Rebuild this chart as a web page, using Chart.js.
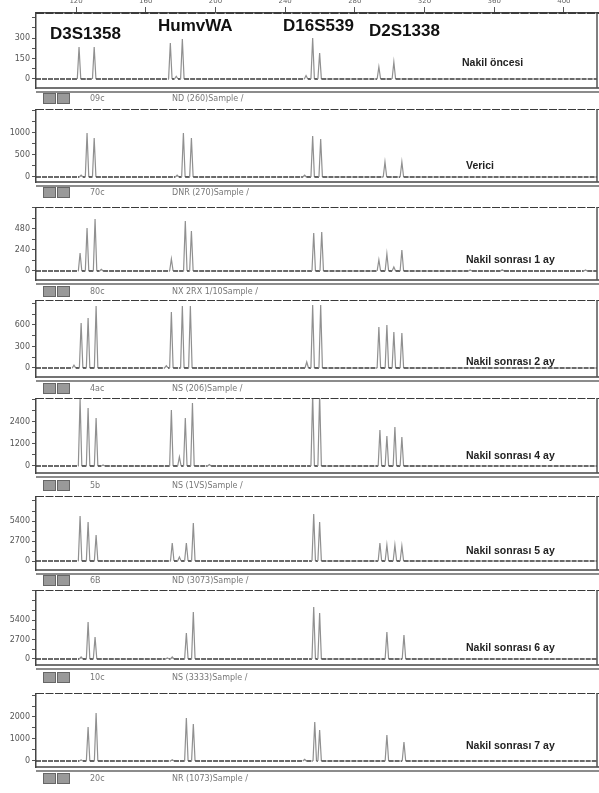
<!DOCTYPE html>
<html>
<head>
<meta charset="utf-8">
<script src="https://cdn.jsdelivr.net/npm/chart.js@4"></script>
<style>
  body { margin: 0; background: #fff; width: 599px; height: 793px; overflow: hidden; position: relative; font-family: "Liberation Sans", Arial, sans-serif; }
  .panel { position: absolute; left: 0; width: 599px; }
  .txt { position: absolute; white-space: nowrap; }
  .marker { font-weight: bold; font-size: 17px; color: #111; }
  .sample { font-weight: bold; font-size: 10.5px; color: #222; }
  .foot { font-family: "DejaVu Sans", sans-serif; font-size: 8px; color: #777; }
  .btn { position: absolute; width: 11px; height: 9px; background: #999; border: 1px solid #666; }
</style>
</head>
<body>
<script>
// base-pair axis (top of the first panel)
const xMin = 97, xMax = 419;
const xTicks = [120, 160, 200, 240, 280, 320, 360, 400];

// locus names over the first trace
const markers = ['D3S1358', 'HumvWA', 'D16S539', 'D2S1338'];

// one label per trace
const sampleNames = ['Nakil öncesi', 'Verici', 'Nakil sonrası 1 ay', 'Nakil sonrası 2 ay',
                     'Nakil sonrası 4 ay', 'Nakil sonrası 5 ay', 'Nakil sonrası 6 ay', 'Nakil sonrası 7 ay'];
const runIds = ['09c', '70c', '80c', '4ac', '5b', '6B', '10c', '20c'];
const sampleTags = ['ND (260)Sample /', 'DNR (270)Sample /', 'NX 2RX 1/10Sample /', 'NS (206)Sample /',
                    'NS (1VS)Sample /', 'ND (3073)Sample /', 'NS (3333)Sample /', 'NR (1073)Sample /'];

// y axis range and label step (RFU)
const yMins  = [-66, -114, -103, -126, -382, -1215, -831, -273];
const yMaxs  = [483, 1545, 731, 949, 3709, 8775, 9554, 3091];
const ySteps = [150, 500, 240, 300, 1200, 2700, 2700, 1000];

// peaks: size (bp) and height (RFU)
const p1Pos = [121.7, 130.4, 174.1, 177.5, 181.0, 252.0, 255.8, 259.8, 293.8, 302.4];
const p1Hgt = [234, 234, 263, 20, 293, 25, 300, 190, 88, 124];
const p2Pos = [122.9, 126.3, 130.4, 178.0, 181.6, 186.2, 251.2, 255.8, 260.4, 297.3, 307.0];
const p2Hgt = [40, 1000, 886, 40, 1000, 886, 40, 930, 864, 340, 340];
const p3Pos = [122.3, 126.3, 130.9, 134.5, 174.7, 182.7, 186.2, 256.4, 261.0, 293.8, 298.4, 302.4, 307.0, 346.2, 364.6, 412.4];
const p3Hgt = [206, 491, 594, 20, 137, 571, 457, 434, 446, 126, 194, 46, 240, 12, 15, 12];
const p4Pos = [118.8, 122.9, 126.9, 131.5, 171.8, 174.7, 181.0, 185.6, 252.4, 255.8, 260.4, 293.8, 298.4, 302.4, 307.0];
const p4Hgt = [40, 628, 698, 865, 30, 781, 865, 865, 84, 879, 879, 572, 600, 502, 488];
const p5Pos = [122.3, 126.9, 131.5, 135.5, 174.7, 179.3, 182.7, 186.8, 196.5, 255.8, 259.8, 294.4, 298.4, 303.0, 307.0];
const p5Hgt = [3650, 3164, 2618, 60, 3055, 491, 2618, 3436, 80, 3900, 3900, 1964, 1636, 2127, 1582];
const p6Pos = [122.3, 126.9, 131.5, 175.2, 179.3, 183.3, 187.3, 256.4, 259.8, 294.4, 298.4, 303.0, 307.0];
const p6Hgt = [6075, 5265, 3510, 2430, 540, 2430, 5130, 6345, 5265, 2430, 2160, 2160, 2025];
const p7Pos = [122.9, 126.9, 130.9, 172.4, 175.2, 183.3, 187.3, 256.4, 259.8, 298.4, 308.2];
const p7Hgt = [277, 5123, 3046, 150, 277, 3600, 6508, 7200, 6370, 3738, 3323];
const p8Pos = [122.9, 126.9, 131.5, 175.2, 183.3, 187.3, 251.2, 257.0, 259.8, 298.4, 308.2];
const p8Hgt = [45, 1545, 2180, 60, 1955, 1680, 80, 1773, 1409, 1180, 864];

const allPos = [p1Pos, p2Pos, p3Pos, p4Pos, p5Pos, p6Pos, p7Pos, p8Pos];
const allHgt = [p1Hgt, p2Hgt, p3Hgt, p4Hgt, p5Hgt, p6Hgt, p7Hgt, p8Hgt];

// page layout: box top / bottom of each panel
const boxTop = [13, 109, 207, 300, 398, 496, 590, 693];
const boxBot = [88, 182, 280, 377, 473, 570, 665, 767];
const footY  = [94, 188, 287, 384, 481, 576, 673, 774];
const labelY = [56, 159, 253, 355, 449, 544, 641, 739];
const HALF = 1.0; // half width of a peak, bp

function trace(pos, hgt) {
    const pts = [{x: xMin, y: 0}];
    pos.forEach((p, i) => {
        pts.push({x: p - HALF, y: 0}, {x: p, y: hgt[i]}, {x: p + HALF, y: 0});
    });
    pts.push({x: xMax, y: 0});
    return pts;
}

const frame = {
    id: 'frame',
    afterDraw(chart) {
        const {ctx, chartArea: a} = chart;
        ctx.save();
        ctx.strokeStyle = '#3a3a3a';
        ctx.lineWidth = 2;
        ctx.setLineDash([8, 1.5]);
        ctx.beginPath(); ctx.moveTo(a.left, a.top); ctx.lineTo(chart.width, a.top); ctx.stroke();
        ctx.setLineDash([]);
        ctx.lineWidth = 1.5;
        ctx.strokeStyle = '#444';
        ctx.beginPath(); ctx.moveTo(a.left, a.bottom); ctx.lineTo(chart.width, a.bottom); ctx.stroke();
        ctx.strokeStyle = '#666';
        ctx.beginPath(); ctx.moveTo(a.left, a.bottom + 4); ctx.lineTo(chart.width, a.bottom + 4); ctx.stroke();
        ctx.strokeStyle = '#555';
        ctx.beginPath(); ctx.moveTo(a.right, a.top); ctx.lineTo(a.right, a.bottom); ctx.stroke();
        ctx.restore();
    }
};

function addText(cls, text, x, y) {
    const d = document.createElement('div');
    d.className = 'txt ' + cls;
    d.textContent = text;
    d.style.left = x + 'px';
    d.style.top = y + 'px';
    document.body.appendChild(d);
}

function noPad(s) {
    s.paddingTop = 0; s.paddingBottom = 0; s.paddingLeft = 0; s.paddingRight = 0;
}

const isBase = c => c.p0.parsed.y === 0 && c.p1.parsed.y === 0;

for (let i = 0; i < 8; i++) {
    const first = i === 0;
    const top = first ? boxTop[i] - 23 : boxTop[i];
    const wrap = document.createElement('div');
    wrap.className = 'panel';
    wrap.style.top = top + 'px';
    wrap.style.height = (boxBot[i] - top + 6) + 'px';
    const cv = document.createElement('canvas');
    wrap.appendChild(cv);
    document.body.appendChild(wrap);

    const step = ySteps[i];
    new Chart(cv, {
        type: 'line',
        data: {
            datasets: [{
                data: trace(allPos[i], allHgt[i]),
                borderColor: '#909090',
                borderWidth: 1.2,
                pointRadius: 0,
                tension: 0,
                segment: {
                    borderColor: c => isBase(c) ? '#3a3a3a' : '#909090',
                    borderWidth: c => isBase(c) ? 1.6 : 1.2,
                    borderDash: c => isBase(c) ? [5, 1] : []
                }
            }]
        },
        options: {
            responsive: true,
            maintainAspectRatio: false,
            animation: false,
            layout: { padding: { left: 0, right: 2, top: 0, bottom: 6 } },
            plugins: { legend: { display: false }, tooltip: { enabled: false } },
            scales: {
                x: {
                    type: 'linear',
                    display: first,
                    position: 'top',
                    min: xMin,
                    max: xMax,
                    afterFit: s => { if (first) s.height = 23; noPad(s); },
                    afterBuildTicks: s => { s.ticks = xTicks.map(v => ({value: v})); },
                    grid: { drawOnChartArea: false, tickLength: 6, color: '#555' },
                    border: { color: '#555', width: 1.5 },
                    ticks: {
                        padding: 2,
                        color: '#666',
                        font: { family: 'DejaVu Sans', size: 7 },
                        maxRotation: 0
                    }
                },
                y: {
                    min: yMins[i],
                    max: yMaxs[i],
                    afterFit: s => { s.width = 36; noPad(s); },
                    afterBuildTicks: s => {
                        const t = [];
                        for (let v = Math.ceil(s.min / (step / 2)) * (step / 2); v <= s.max; v += step / 2) t.push({value: v});
                        s.ticks = t;
                    },
                    grid: { drawOnChartArea: false, tickLength: 4, color: '#555' },
                    border: { color: '#444', width: 1.5 },
                    ticks: {
                        autoSkip: false,
                        padding: 2,
                        color: '#555',
                        font: { family: 'DejaVu Sans', size: 8 },
                        callback: v => ((v === 0 || v === step || v === 2 * step) ? String(v) : '')
                    }
                }
            }
        },
        plugins: [frame]
    });

    // sample label and footer row
    addText('sample', sampleNames[i], first ? 462 : 466, labelY[i]);
    const b1 = document.createElement('div');
    b1.className = 'btn'; b1.style.left = '43px'; b1.style.top = (footY[i] - 1) + 'px';
    const b2 = document.createElement('div');
    b2.className = 'btn'; b2.style.left = '57px'; b2.style.top = (footY[i] - 1) + 'px';
    document.body.appendChild(b1);
    document.body.appendChild(b2);
    addText('foot', runIds[i], 90, footY[i]);
    addText('foot', sampleTags[i], 172, footY[i]);
}

// locus names
const markerX = [50, 158, 283, 369];
const markerY = [24, 16, 16, 21];
markers.forEach((m, k) => addText('marker', m, markerX[k], markerY[k]));
</script>
</body>
</html>
